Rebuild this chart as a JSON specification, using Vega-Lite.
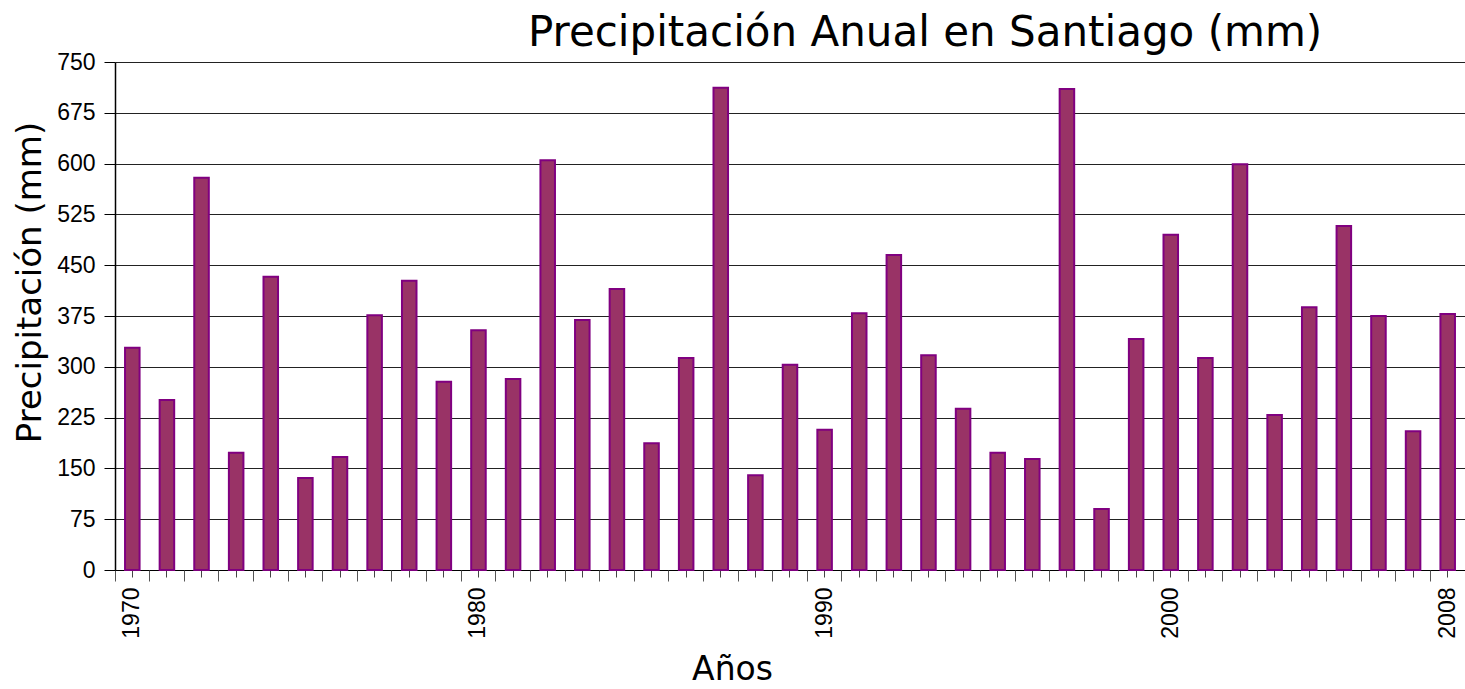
{
  "$schema": "https://vega.github.io/schema/vega-lite/v6.json",
  "autosize": {"type": "none"},
  "width": 1350,
  "height": 508,
  "padding": {"left": 115, "top": 62, "right": 0, "bottom": 119},
  "background": "white",
  "config": {"view": {"stroke": null}},
  "title": {
    "text": "Precipitación Anual en Santiago (mm)",
    "font": "DejaVu Sans",
    "fontSize": 42,
    "fontWeight": "normal",
    "color": "#000",
    "anchor": "start",
    "dx": 515,
    "dy": 52,
    "baseline": "alphabetic",
    "offset": 15
  },
  "data": {
    "values": [
      {"year": 1970, "precip": 328},
      {"year": 1971, "precip": 251},
      {"year": 1972, "precip": 579},
      {"year": 1973, "precip": 173},
      {"year": 1974, "precip": 433},
      {"year": 1975, "precip": 136},
      {"year": 1976, "precip": 167},
      {"year": 1977, "precip": 376},
      {"year": 1978, "precip": 427},
      {"year": 1979, "precip": 278},
      {"year": 1980, "precip": 354},
      {"year": 1981, "precip": 282},
      {"year": 1982, "precip": 605},
      {"year": 1983, "precip": 369},
      {"year": 1984, "precip": 415},
      {"year": 1985, "precip": 187},
      {"year": 1986, "precip": 313},
      {"year": 1987, "precip": 712},
      {"year": 1988, "precip": 140},
      {"year": 1989, "precip": 303},
      {"year": 1990, "precip": 207},
      {"year": 1991, "precip": 379},
      {"year": 1992, "precip": 465},
      {"year": 1993, "precip": 317},
      {"year": 1994, "precip": 238},
      {"year": 1995, "precip": 173},
      {"year": 1996, "precip": 164},
      {"year": 1997, "precip": 710},
      {"year": 1998, "precip": 90},
      {"year": 1999, "precip": 341},
      {"year": 2000, "precip": 495},
      {"year": 2001, "precip": 313},
      {"year": 2002, "precip": 599},
      {"year": 2003, "precip": 229},
      {"year": 2004, "precip": 388},
      {"year": 2005, "precip": 508},
      {"year": 2006, "precip": 375},
      {"year": 2007, "precip": 205},
      {"year": 2008, "precip": 378}
    ]
  },
  "layer": [
    {
      "mark": {
        "type": "bar",
        "fill": "#993366",
        "stroke": "#800080",
        "strokeWidth": 2,
        "width": {"band": 0.42}
      },
      "encoding": {
        "x": {
          "field": "year",
          "type": "ordinal",
          "scale": {"paddingInner": 0, "paddingOuter": 0},
          "axis": {
            "orient": "bottom",
            "grid": false,
            "domainColor": "#000",
            "domainWidth": 1,
            "tickColor": "#444",
            "tickSize": 7,
            "labelAngle": 270,
            "labelPadding": 10,
            "labelFont": "Liberation Sans",
            "labelFontSize": 23,
            "labelColor": "#000",
            "labelOverlap": false,
            "labelExpr": "(datum.value % 10 == 0 || datum.value == 2008) ? datum.label : ''",
            "title": "Años",
            "titleFont": "DejaVu Sans",
            "titleFontSize": 33,
            "titleFontWeight": "normal",
            "titleColor": "#000",
            "titleX": 617,
            "titleY": 109,
            "titleBaseline": "alphabetic",
            "titleAlign": "center"
          }
        },
        "y": {
          "field": "precip",
          "type": "quantitative",
          "scale": {"domain": [0, 750], "nice": false},
          "axis": {
            "values": [0, 75, 150, 225, 300, 375, 450, 525, 600, 675, 750],
            "grid": true,
            "gridColor": "#222",
            "gridWidth": 1,
            "domainColor": "#000",
            "domainWidth": 1.5,
            "tickColor": "#000",
            "tickSize": 11,
            "labelPadding": 9,
            "labelFont": "Liberation Sans",
            "labelFontSize": 23,
            "labelColor": "#000",
            "title": "Precipitación (mm)",
            "titleFont": "DejaVu Sans",
            "titleFontSize": 34,
            "titleFontWeight": "normal",
            "titleColor": "#000",
            "titleX": -75,
            "titleY": 220,
            "titleBaseline": "alphabetic",
            "titleAlign": "center"
          }
        }
      }
    },
    {
      "mark": {"type": "point", "opacity": 0},
      "encoding": {
        "x": {
          "field": "year",
          "type": "ordinal",
          "axis": {
            "orient": "bottom",
            "bandPosition": 0,
            "grid": false,
            "domain": false,
            "labels": false,
            "tickColor": "#555",
            "tickSize": 11,
            "title": null
          }
        }
      }
    }
  ],
  "resolve": {"axis": {"x": "independent"}}
}
